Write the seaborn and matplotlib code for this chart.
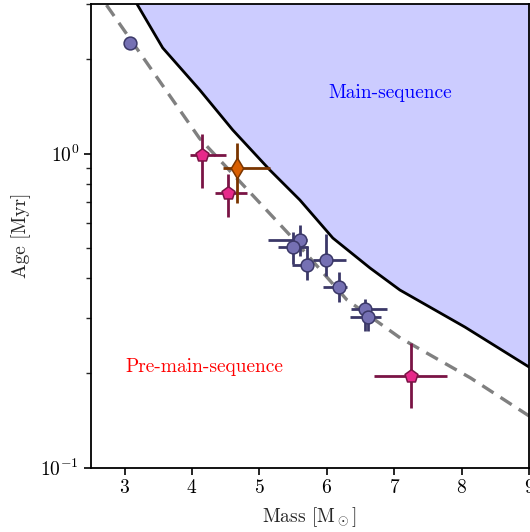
import numpy as np
import pandas as pd
import seaborn as sns
import matplotlib
matplotlib.use("Agg")
import matplotlib.pyplot as plt
from matplotlib.ticker import LogLocator, NullFormatter

# ---- data ----
ms_mass = [3.148, 3.564, 4.114, 4.604, 5.154, 5.60, 6.089, 6.64, 7.084, 8.05, 9.0]
ms_age = [3.08, 2.17, 1.594, 1.188, 0.886, 0.711, 0.538, 0.432, 0.3675, 0.280, 0.209]

iso_mass = [2.73, 4.11, 5.45, 6.30, 7.09, 8.13, 9.0]
iso_age = [2.97, 1.118, 0.55, 0.3415, 0.2585, 0.193, 0.146]

blue_mass = [3.074, 5.607, 5.496, 5.699, 5.981, 6.183, 6.573, 6.617]
blue_age = [2.25, 0.530, 0.504, 0.4415, 0.458, 0.375, 0.319, 0.302]
blue_xlo = [0.04, 0.48, 0.22, 0.22, 0.19, 0.24, 0.22, 0.27]
blue_xhi = [0.04, 0.10, 0.22, 0.10, 0.30, 0.12, 0.32, 0.18]
blue_ylo = [0.04, 0.06, 0.06, 0.045, 0.05, 0.038, 0.047, 0.03]
blue_yhi = [0.04, 0.06, 0.06, 0.065, 0.096, 0.044, 0.025, 0.03]

pink_mass = [4.148, 4.534, 7.249]
pink_age = [0.989, 0.747, 0.1956]
pink_xlo = [0.183, 0.197, 0.545]
pink_xhi = [0.362, 0.283, 0.539]
pink_ylo = [0.214, 0.121, 0.0413]
pink_yhi = [0.165, 0.113, 0.053]

orange_mass = [4.674]
orange_age = [0.897]
orange_xlo = [0.214]
orange_xhi = [0.480]
orange_ylo = [0.200]
orange_yhi = [0.181]

x_ticks = [3, 4, 5, 6, 7, 8, 9]

# ---- style ----
sns.set_style("ticks")
plt.rcParams["font.family"] = ["cmr10", "DejaVu Serif"]
plt.rcParams["mathtext.fontset"] = "cm"
plt.rcParams["axes.formatter.use_mathtext"] = True
plt.rcParams["axes.unicode_minus"] = False
plt.rcParams["axes.linewidth"] = 1.3
plt.rcParams["axes.edgecolor"] = "black"

fig = plt.figure(figsize=(5.30, 5.32), dpi=100)
ax = fig.add_axes([91 / 530, (532 - 467.5) / 532, (529 - 91) / 530, (467.5 - 3.7) / 532])

ms_df = pd.DataFrame({"mass": ms_mass, "age": ms_age})
iso_df = pd.DataFrame({"mass": iso_mass, "age": iso_age})

ax.fill_between(ms_mass, ms_age, 10, color="#ccccff", zorder=1, linewidth=0)
sns.lineplot(data=ms_df, x="mass", y="age", ax=ax, color="black", lw=2.0,
             sort=False, estimator=None, zorder=2)
sns.lineplot(data=iso_df, x="mass", y="age", ax=ax, color="#808080", lw=2.4,
             sort=False, estimator=None, zorder=2, dashes=False)
ax.lines[-1].set_dashes([4, 2.5])

def pts(mass, age, xlo, xhi, ylo, yhi, marker, face, edge, ecol, ms):
    ax.errorbar(mass, age, xerr=[xlo, xhi], yerr=[ylo, yhi], fmt="none",
                ecolor=ecol, elinewidth=2.0, capsize=0, zorder=3)
    df = pd.DataFrame({"mass": mass, "age": age})
    sns.scatterplot(data=df, x="mass", y="age", ax=ax, marker=marker,
                    color=face, edgecolor=edge, linewidth=1.1, s=ms, zorder=4)

pts(blue_mass, blue_age, blue_xlo, blue_xhi, blue_ylo, blue_yhi,
    "o", "#7570b3", "#3b3868", "#3b3868", 85)
pts(pink_mass, pink_age, pink_xlo, pink_xhi, pink_ylo, pink_yhi,
    "p", "#e7298a", "#7a1445", "#7a1445", 95)
pts(orange_mass, orange_age, orange_xlo, orange_xhi, orange_ylo, orange_yhi,
    "d", "#d95f02", "#7a3500", "#7a3500", 110)

ax.text(6.937, 1.562, "Main-sequence", color="blue", fontsize=14,
        ha="center", va="center")
ax.text(4.18, 0.209, "Pre-main-sequence", color="red", fontsize=14,
        ha="center", va="center")

ax.set_yscale("log")
ax.set_xlim(2.5, 9)
ax.set_ylim(0.1, 3.0)
ax.set_xticks(x_ticks)
ax.yaxis.set_major_locator(LogLocator(base=10))
ax.yaxis.set_minor_locator(LogLocator(base=10, subs=np.arange(2, 10)))
ax.yaxis.set_minor_formatter(NullFormatter())
ax.tick_params(which="major", direction="out", length=5, width=1.2, labelsize=14, colors="black")
ax.tick_params(which="minor", direction="out", length=3.5, width=1.0)
ax.set_xlabel(r"Mass [M$_\odot$]", fontsize=14, labelpad=6)
ax.set_ylabel("Age [Myr]", fontsize=14, labelpad=7)
for s in ax.spines.values():
    s.set_visible(True)
    s.set_linewidth(1.3)

fig.savefig("out.png", dpi=100)
